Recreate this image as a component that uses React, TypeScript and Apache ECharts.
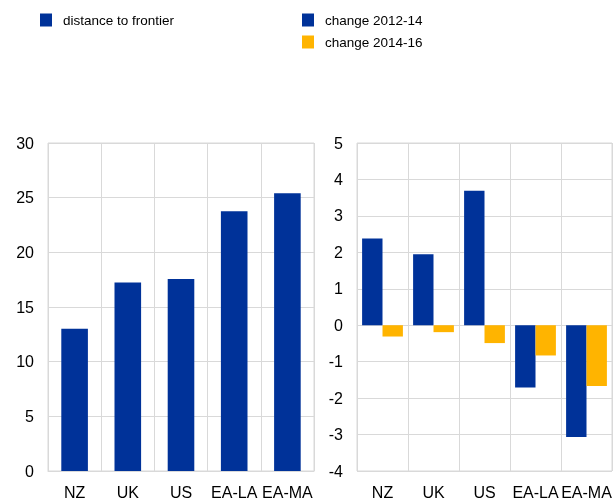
import React, { useEffect, useRef } from "react";
import * as echarts from "echarts";

const categories = ["NZ", "UK", "US", "EA-LA", "EA-MA"];
const distanceToFrontier = [13.0, 17.25, 17.55, 23.75, 25.4];
const change2012_14 = [2.38, 1.95, 3.69, -1.71, -3.07];
const change2014_16 = [-0.31, -0.19, -0.49, -0.83, -1.67];
const leftTicks = { min: 0, max: 30, interval: 5 };
const rightTicks = { min: -4, max: 5, interval: 1 };

const BLUE = "#003299";
const YELLOW = "#FFB400";
const GRID = "#d9d9d9";
const FONT = "Liberation Sans, Arial, sans-serif";

export default function App() {
  const ref = useRef<HTMLDivElement>(null);
  useEffect(() => {
    if (!ref.current) return;
    const chart = echarts.init(ref.current, null, { renderer: "svg" });
    const axisLabel = { color: "#000", fontSize: 16, fontFamily: FONT };
    const legendText = { fontSize: 13.5, color: "#000", fontFamily: FONT, padding: [0, 0, 0, 6] };
    chart.setOption({
      animation: false,
      textStyle: { fontFamily: FONT },
      legend: [
        {
          left: 35,
          top: 8,
          itemWidth: 12,
          itemHeight: 13,
          icon: "rect",
          data: ["distance to frontier"],
          textStyle: legendText,
        },
        {
          left: 297,
          top: 8,
          orient: "vertical",
          itemGap: 8,
          itemWidth: 12,
          itemHeight: 13,
          icon: "rect",
          data: ["change 2012-14", "change 2014-16"],
          textStyle: legendText,
        },
      ],
      grid: [
        { left: 48, top: 143, width: 266, height: 331, show: true, borderColor: GRID, borderWidth: 1 },
        { left: 357, top: 143, width: 255, height: 331, show: true, borderColor: GRID, borderWidth: 1 },
      ],
      xAxis: [
        {
          type: "category",
          gridIndex: 0,
          data: categories,
          axisLine: { show: true, lineStyle: { color: GRID } },
          axisTick: { show: false },
          splitLine: { show: true, lineStyle: { color: GRID } },
          axisLabel: { ...axisLabel, margin: 13, interval: 0 },
        },
        {
          type: "category",
          gridIndex: 1,
          data: categories,
          position: "bottom",
          axisLine: { show: false, onZero: false },
          axisTick: { show: false },
          splitLine: { show: true, lineStyle: { color: GRID } },
          axisLabel: { ...axisLabel, margin: 13, interval: 0 },
        },
      ],
      yAxis: [
        {
          type: "value",
          gridIndex: 0,
          ...leftTicks,
          axisLine: { show: false },
          axisTick: { show: false },
          splitLine: { show: true, lineStyle: { color: GRID } },
          axisLabel: { ...axisLabel, margin: 14 },
        },
        {
          type: "value",
          gridIndex: 1,
          ...rightTicks,
          axisLine: { show: false },
          axisTick: { show: false },
          splitLine: { show: true, lineStyle: { color: GRID } },
          axisLabel: { ...axisLabel, margin: 14 },
        },
      ],
      series: [
        {
          name: "distance to frontier",
          type: "bar",
          xAxisIndex: 0,
          yAxisIndex: 0,
          data: distanceToFrontier,
          barWidth: "50%",
          itemStyle: { color: BLUE },
        },
        {
          name: "change 2012-14",
          type: "bar",
          xAxisIndex: 1,
          yAxisIndex: 1,
          data: change2012_14,
          barGap: "0%",
          barCategoryGap: "20%",
          itemStyle: { color: BLUE },
        },
        {
          name: "change 2014-16",
          type: "bar",
          xAxisIndex: 1,
          yAxisIndex: 1,
          data: change2014_16,
          barGap: "0%",
          barCategoryGap: "20%",
          itemStyle: { color: YELLOW },
        },
      ],
    });
    return () => chart.dispose();
  }, []);
  return (
    <div
      ref={ref}
      style={{ position: "fixed", left: 0, top: 0, width: 616, height: 500 }}
    />
  );
}
